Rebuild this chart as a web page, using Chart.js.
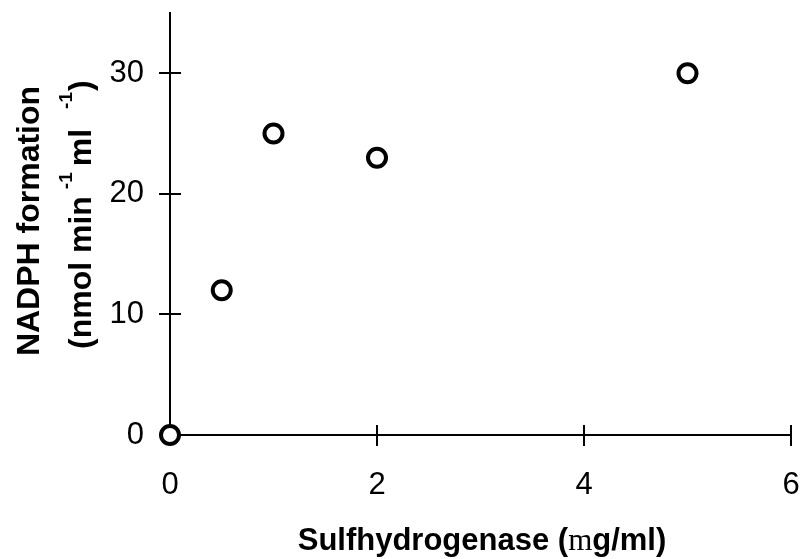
<!DOCTYPE html>
<html>
<head>
<meta charset="utf-8">
<script src="https://cdn.jsdelivr.net/npm/chart.js@4/dist/chart.umd.min.js"></script>
<style>
  html, body { margin: 0; padding: 0; background: #fff; }
  #wrap { width: 804px; height: 559px; }
</style>
</head>
<body>
<div id="wrap"><canvas id="chart" width="804" height="559"></canvas></div>
<script>
// enzyme concentration (x) vs NADPH formation rate (y)
const enzymeConc = [0, 0.5, 1, 2, 5];
const nadphRate = [0, 12, 25, 23, 30];
const xTicks = [0, 2, 4, 6];
const yTicks = [0, 10, 20, 30];

const FONT = '"Liberation Sans", Arial, sans-serif';

// ticks in the reference cross the axis line, so draw them by hand
const crossTicks = {
  id: 'crossTicks',
  afterDraw(chart) {
    const { ctx, scales: { x, y } } = chart;
    ctx.save();
    ctx.strokeStyle = '#000';
    ctx.lineWidth = 2;
    ctx.beginPath();
    xTicks.forEach(v => {
      if (v === 0) return;
      const px = Math.round(x.getPixelForValue(v));
      ctx.moveTo(px, y.bottom - 10);
      ctx.lineTo(px, y.bottom + 11);
    });
    yTicks.forEach(v => {
      if (v === 0) return;
      const py = Math.round(y.getPixelForValue(v));
      ctx.moveTo(x.left - 11, py);
      ctx.lineTo(x.left + 11, py);
    });
    ctx.stroke();
    ctx.restore();
  }
};

// axis titles drawn by hand: superscripts and the symbol-font "m"
const axisTitles = {
  id: 'axisTitles',
  afterDraw(chart) {
    const { ctx } = chart;
    ctx.save();
    ctx.fillStyle = '#000';
    ctx.textBaseline = 'alphabetic';
    ctx.textAlign = 'left';

    // x title
    const parts = [
      { t: 'Sulfhydrogenase (', f: 'bold 31px ' + FONT },
      { t: 'm', f: '31px "Liberation Serif", "Times New Roman", serif' },
      { t: 'g/ml)', f: 'bold 31px ' + FONT },
    ];
    let total = 0;
    parts.forEach(p => { ctx.font = p.f; p.w = ctx.measureText(p.t).width; total += p.w; });
    let cx = 482 - total / 2;
    parts.forEach(p => { ctx.font = p.f; ctx.fillText(p.t, cx, 550); cx += p.w; });

    // y title, rotated
    ctx.rotate(-Math.PI / 2);
    ctx.textAlign = 'center';
    ctx.font = 'bold 32px ' + FONT;
    ctx.fillText('NADPH formation', -221, 39);

    ctx.textAlign = 'left';
    const line2 = [
      { t: '(nmol min', f: 'bold 32px ' + FONT, sup: false, gap: 7 },
      { t: '-1', f: 'bold 19px ' + FONT, sup: true, gap: 6 },
      { t: 'ml', f: 'bold 32px ' + FONT, sup: false, gap: 20 },
      { t: '-1', f: 'bold 19px ' + FONT, sup: true, gap: 1 },
      { t: ')', f: 'bold 32px ' + FONT, sup: false, gap: 0 },
    ];
    let u = -349;
    line2.forEach(p => {
      ctx.font = p.f;
      ctx.fillText(p.t, u, p.sup ? 72 : 91);
      u += ctx.measureText(p.t).width + p.gap;
    });
    ctx.restore();
  }
};

new Chart(document.getElementById('chart'), {
  type: 'scatter',
  data: {
    datasets: [{
      data: enzymeConc.map((v, i) => ({ x: v, y: nadphRate[i] })),
      pointStyle: 'circle',
      pointRadius: 9,
      pointHoverRadius: 9,
      borderColor: '#000',
      backgroundColor: '#fff',
      borderWidth: 4,
      clip: false,
    }]
  },
  options: {
    responsive: false,
    animation: false,
    events: [],
    layout: { padding: { left: 0, top: 12, right: 11, bottom: 0 } },
    plugins: { legend: { display: false }, tooltip: { enabled: false } },
    scales: {
      x: {
        type: 'linear',
        min: 0, max: 6,
        afterBuildTicks: s => { s.ticks = xTicks.map(v => ({ value: v })); },
        afterFit: s => { s.height = 124; s.paddingLeft = 0; s.paddingRight = 0; },
        grid: { display: false, drawTicks: false },
        border: { display: true, color: '#000', width: 2 },
        ticks: {
          color: '#000',
          font: { family: FONT, size: 31 },
          padding: 32,
          maxRotation: 0,
        },
      },
      y: {
        type: 'linear',
        min: 0, max: 35,
        afterBuildTicks: s => { s.ticks = yTicks.map(v => ({ value: v })); },
        afterFit: s => { s.width = 170; s.paddingTop = 0; s.paddingBottom = 0; },
        grid: { display: false, drawTicks: false },
        border: { display: true, color: '#000', width: 2 },
        ticks: {
          color: '#000',
          font: { family: FONT, size: 31 },
          padding: 26,
        },
      },
    },
  },
  plugins: [crossTicks, axisTitles],
});
</script>
</body>
</html>
